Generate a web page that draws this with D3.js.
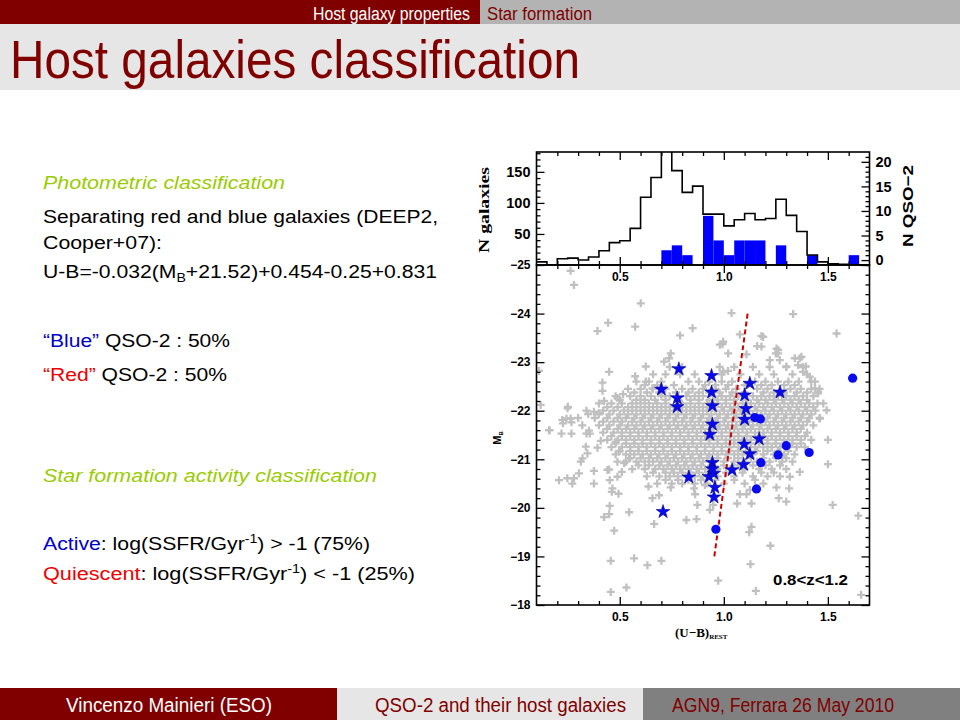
<!DOCTYPE html>
<html>
<head>
<meta charset="utf-8">
<script src="https://cdn.jsdelivr.net/npm/d3@7"></script>
<style>
  body { margin: 0; background: #fff; }
  svg { display: block; font-family: Arial, "Liberation Sans", sans-serif; }
</style>
</head>
<body>
<svg id="slide" width="960" height="720"></svg>
<script>
// ---- histogram (bins of 0.05 in U-B, from 0.1 to 1.7) ----
const binStart = 0.1, binWidth = 0.05;
const galCounts = [5,0,10,11,8,13,23,36,39,59,109,141,200,152,117,127,
                   82,82,63,73,83,73,75,106,80,54,16,5,2,1,0,0];
const qsoCounts = [0,0,0,0,0,0,0,0,0,0,0,0,2,3,1,0,
                   9,4,1,4,4,4,0,3,0,0,1,0,0,0,1,0];

// ---- QSO-2 hosts: [U-B, M_B] ----
const qsoActive = [
  [0.784,-22.86],[0.70,-22.44],[0.776,-22.26],[0.776,-22.08],[0.941,-22.72],
  [0.941,-22.38],[0.945,-22.10],[0.945,-21.72],[0.933,-21.51],[1.125,-22.56],
  [1.10,-22.32],[1.106,-22.04],[1.10,-21.82],[1.17,-21.42],[1.098,-21.31],
  [1.125,-21.11],[1.27,-22.38],[1.095,-20.89],[0.945,-20.93],[0.929,-20.64],
  [0.952,-20.71],[0.945,-20.80],[0.832,-20.63],[1.04,-20.78],[0.957,-20.42],
  [0.953,-20.22],[0.708,-19.92]
];
const qsoQuiescent = [
  [1.619,-22.67],[1.149,-21.86],[1.176,-21.83],[1.30,-21.28],[1.261,-21.09],
  [1.41,-21.14],[1.178,-20.93],[1.157,-20.39],[0.962,-19.56]
];

// ---- field galaxies, sparse outskirts: [U-B, M_B] ----
const fieldOuter = [
  [0.264,-24.88],[0.28,-24.59],[0.601,-24.21],[0.444,-23.81],[0.393,-23.64],[0.574,-23.73],
  [0.85,-23.70],[0.79,-23.55],[0.745,-23.18],[0.737,-23.08],[0.713,-23.01],[0.625,-22.91],
  [0.112,-22.82],[0.449,-22.80],[0.574,-22.71],[0.417,-22.58],[0.417,-22.41],[0.425,-22.20],
  [0.249,-22.05],[0.12,-22.12],[0.224,-21.81],[0.264,-21.84],[0.16,-21.60],[0.352,-21.59],
  [0.376,-21.98],[0.40,-21.95],[0.489,-22.26],[0.516,-22.34],[0.625,-22.60],[0.657,-22.46],
  [1.037,-24.01],[1.333,-23.99],[1.542,-23.59],[1.077,-23.57],[1.181,-23.54],[0.994,-23.37],
  [1.16,-23.33],[1.261,-23.25],[1.25,-23.18],[1.021,-23.18],[1.109,-23.16],[1.221,-23.04],
  [1.269,-23.04],[1.365,-23.08],[1.357,-22.94],[1.394,-22.91],[1.30,-22.91],[1.438,-22.60],
  [1.453,-22.39],[1.381,-22.80],[1.413,-22.70],[0.997,-22.80],[1.02,-22.82],
  [0.208,-20.57],[0.248,-20.61],[0.272,-20.50],[0.28,-20.61],[0.304,-20.71],[0.376,-20.76],
  [0.376,-20.50],[0.449,-20.79],[0.452,-20.57],[0.465,-20.40],[0.462,-20.33],[0.494,-20.29],
  [0.452,-20.04],[0.449,-19.87],[0.425,-19.81],[0.545,-19.91],[0.473,-19.53],[0.457,-18.91],
  [0.569,-18.96],[0.633,-18.82],[0.70,-18.91],[0.457,-18.27],[0.532,-18.36],[0.665,-19.67],
  [0.689,-20.26],[0.657,-20.20],[0.745,-20.42],[0.638,-20.44],[0.857,-20.40],[0.862,-20.28],
  [0.873,-20.06],[0.82,-19.75],[0.869,-19.77],[0.337,-21.26],[0.393,-21.24],[0.321,-21.02],
  [0.313,-20.95],[0.345,-21.12],[0.409,-21.38],[0.481,-21.36],[0.441,-20.78],[0.489,-20.95],
  [0.489,-20.64],[0.51,-20.74],[0.521,-20.92],[0.545,-21.02],[0.497,-21.16],
  [1.50,-21.40],[1.50,-20.90],[1.523,-20.06],[1.646,-19.84],[1.365,-20.74],[1.317,-20.64],
  [1.253,-20.42],[1.314,-20.40],[1.264,-20.20],[1.30,-20.13],[1.133,-20.09],[1.064,-20.09],
  [1.077,-20.28],[1.109,-20.28],[1.125,-20.37],[1.133,-19.61],[1.122,-19.50],[1.224,-19.22],
  [1.128,-18.84],[0.973,-18.50],[1.154,-18.29],[1.66,-18.21],[0.933,-19.96],[0.949,-20.06],
  [0.909,-20.47],[0.251,-22.08],[0.244,-21.84],[0.227,-21.74],[0.268,-21.76],[0.163,-21.60],
  [0.22,-21.53],[0.268,-21.53],[0.348,-21.93],[0.34,-21.53],[0.356,-21.53],[1.438,-22.46],
  [1.453,-22.36],[1.478,-22.15],[1.494,-22.01],[1.462,-21.84],[1.341,-23.08],[1.373,-23.11],
  [0.981,-23.36],[0.997,-23.42],[1.189,-23.52],[1.181,-23.32],[1.253,-23.28],[1.261,-23.18]
];

// ---- field galaxies, crowded core, read row by row: [M_B, [U-B ...]] ----
const fieldCore = [
  [-22.9, [0.74,0.80,0.98,1.05,1.14,1.22,1.30,1.38]],
  [-22.75,[0.66,0.72,0.79,0.86,0.99,1.08,1.17,1.24,1.33,1.40]],
  [-22.6, [0.58,0.64,0.70,0.83,0.88,0.93,0.99,1.04,1.15,1.20,1.26,1.31,1.36,1.42]],
  [-22.525,[0.62,0.68,0.76,0.91,0.96,1.02,1.10,1.18,1.23,1.29,1.34]],
  [-22.45,[0.54,0.60,0.66,0.72,0.80,0.85,0.90,0.96,1.01,1.06,1.16,1.21,1.32,1.37,1.42,1.46]],
  [-22.375,[0.57,0.63,0.69,0.77,0.83,0.88,0.93,0.98,1.04,1.10,1.19,1.24,1.29,1.35,1.40]],
  [-22.3, [0.48,0.55,0.60,0.65,0.70,0.74,0.82,0.86,0.90,0.95,0.99,1.03,1.07,1.14,1.18,1.22,1.26,1.30,1.34,1.38,1.43]],
  [-22.225,[0.50,0.58,0.62,0.67,0.72,0.78,0.84,0.88,0.93,0.97,1.01,1.05,1.11,1.16,1.20,1.24,1.28,1.32,1.36,1.40]],
  [-22.15,[0.40,0.46,0.51,0.56,0.60,0.64,0.68,0.72,0.80,0.84,0.88,0.92,0.97,1.01,1.05,1.09,1.13,1.17,1.21,1.25,1.29,1.33,1.37,1.41,1.45]],
  [-22.075,[0.44,0.49,0.54,0.58,0.62,0.66,0.70,0.74,0.78,0.82,0.86,0.90,0.94,0.99,1.03,1.07,1.11,1.15,1.19,1.23,1.27,1.31,1.35,1.39,1.43]],
  [-22.0, [0.34,0.42,0.47,0.52,0.56,0.60,0.64,0.68,0.72,0.76,0.80,0.84,0.88,0.92,0.96,1.00,1.04,1.08,1.12,1.16,1.20,1.24,1.28,1.32,1.36,1.40,1.44]],
  [-21.925,[0.40,0.45,0.50,0.54,0.58,0.62,0.66,0.70,0.74,0.78,0.82,0.86,0.90,0.94,0.98,1.02,1.06,1.10,1.14,1.18,1.22,1.26,1.30,1.34,1.38,1.42]],
  [-21.85,[0.30,0.38,0.44,0.49,0.53,0.57,0.61,0.65,0.69,0.73,0.77,0.81,0.85,0.89,0.93,0.97,1.01,1.05,1.09,1.13,1.17,1.21,1.25,1.29,1.33,1.37,1.41,1.46]],
  [-21.775,[0.42,0.47,0.51,0.56,0.60,0.64,0.68,0.72,0.76,0.80,0.84,0.88,0.92,0.96,1.00,1.04,1.08,1.12,1.16,1.20,1.24,1.28,1.32,1.36,1.40]],
  [-21.7, [0.32,0.40,0.45,0.50,0.54,0.58,0.62,0.66,0.70,0.74,0.78,0.82,0.86,0.90,0.94,0.98,1.02,1.06,1.10,1.14,1.18,1.22,1.26,1.30,1.34,1.38,1.43]],
  [-21.625,[0.44,0.49,0.53,0.57,0.61,0.65,0.69,0.73,0.77,0.81,0.85,0.89,0.93,0.97,1.01,1.05,1.09,1.13,1.17,1.21,1.25,1.29,1.33,1.37]],
  [-21.55,[0.42,0.47,0.51,0.55,0.59,0.63,0.67,0.71,0.75,0.79,0.83,0.87,0.91,0.95,0.99,1.03,1.07,1.11,1.15,1.19,1.23,1.27,1.31,1.35,1.40]],
  [-21.475,[0.46,0.51,0.55,0.59,0.63,0.67,0.71,0.75,0.79,0.83,0.87,0.91,0.95,0.99,1.03,1.07,1.11,1.15,1.19,1.23,1.27,1.31,1.35,1.39]],
  [-21.4, [0.44,0.49,0.53,0.57,0.61,0.65,0.69,0.73,0.77,0.81,0.85,0.89,0.93,0.97,1.01,1.05,1.09,1.13,1.17,1.21,1.25,1.29,1.33,1.37,1.42]],
  [-21.325,[0.48,0.53,0.57,0.61,0.65,0.69,0.73,0.77,0.81,0.85,0.89,0.93,0.97,1.01,1.05,1.09,1.13,1.17,1.21,1.25,1.29,1.33,1.37]],
  [-21.25,[0.46,0.51,0.55,0.59,0.63,0.67,0.71,0.75,0.79,0.83,0.87,0.91,0.95,0.99,1.03,1.07,1.11,1.15,1.19,1.23,1.27,1.31,1.35,1.39]],
  [-21.175,[0.50,0.55,0.59,0.63,0.67,0.71,0.75,0.79,0.83,0.87,0.91,0.95,0.99,1.03,1.07,1.11,1.16,1.21,1.26,1.31]],
  [-21.1, [0.48,0.53,0.57,0.61,0.65,0.69,0.73,0.77,0.81,0.85,0.89,0.93,0.97,1.01,1.05,1.09,1.14,1.19,1.24,1.29,1.34]],
  [-21.025,[0.55,0.60,0.64,0.68,0.72,0.76,0.80,0.84,0.88,0.92,0.97,1.02,1.07,1.13,1.19,1.25,1.30]],
  [-20.95,[0.53,0.58,0.62,0.66,0.70,0.74,0.78,0.82,0.86,0.90,0.95,1.00,1.05,1.10,1.16,1.22,1.28,1.33]],
  [-20.875,[0.59,0.64,0.69,0.73,0.77,0.81,0.85,0.89,0.94,1.00,1.07,1.14,1.20,1.27]],
  [-20.8, [0.56,0.62,0.67,0.71,0.75,0.79,0.83,0.87,0.91,0.97,1.03,1.10,1.17,1.23,1.30]],
  [-20.725,[0.66,0.72,0.76,0.80,0.84,0.88,0.93,1.01,1.09,1.18,1.24]],
  [-20.65,[0.63,0.69,0.74,0.78,0.82,0.86,0.90,0.97,1.05,1.14,1.21,1.27]],
  [-20.575,[0.72,0.78,0.83,0.89,0.96,1.05,1.15]],
  [-20.5, [0.68,0.75,0.80,0.86,0.92,1.00,1.10,1.19]]
];

// ---- colour separation (Cooper+07): U-B = slope*(M_B + pivot) + offset ----
const sepSlope = -0.032, sepPivot = 21.52, sepOffset = 0.454 - 0.25 + 0.831;
const sepRange = [-24, -19];

// ---- tick labels ----
const xMajor = [0.5, 1.0, 1.5];
const magMajor = [-25, -24, -23, -22, -21, -20, -19, -18];
const galMajor = [50, 100, 150];
const qsoMajor = [0, 5, 10, 15, 20];

const svg = d3.select("#slide");
const RED = "#800000";

// ================= slide frame =================
svg.append("rect").attr("x", 0).attr("y", 0).attr("width", 480).attr("height", 24).attr("fill", RED);
svg.append("rect").attr("x", 480).attr("y", 0).attr("width", 480).attr("height", 24).attr("fill", "#b3b3b3");
svg.append("rect").attr("x", 0).attr("y", 24).attr("width", 960).attr("height", 66).attr("fill", "#e6e6e6");
svg.append("text").attr("x", 313).attr("y", 20).attr("font-size", 18).attr("fill", "#fff")
  .attr("textLength", 157).attr("lengthAdjust", "spacingAndGlyphs").text("Host galaxy properties");
svg.append("text").attr("x", 487).attr("y", 20).attr("font-size", 18).attr("fill", RED)
  .attr("textLength", 105).attr("lengthAdjust", "spacingAndGlyphs").text("Star formation");
svg.append("text").attr("x", 10).attr("y", 78).attr("font-size", 53).attr("fill", RED)
  .attr("textLength", 570).attr("lengthAdjust", "spacingAndGlyphs").text("Host galaxies classification");

svg.append("rect").attr("x", 0).attr("y", 688).attr("width", 337).attr("height", 32).attr("fill", RED);
svg.append("rect").attr("x", 337).attr("y", 688).attr("width", 306).attr("height", 32).attr("fill", "#e6e6e6");
svg.append("rect").attr("x", 643).attr("y", 688).attr("width", 317).attr("height", 32).attr("fill", "#808080");
svg.append("text").attr("x", 66).attr("y", 712).attr("font-size", 20).attr("fill", "#fff")
  .attr("textLength", 206).attr("lengthAdjust", "spacingAndGlyphs").text("Vincenzo Mainieri (ESO)");
svg.append("text").attr("x", 375).attr("y", 712).attr("font-size", 20).attr("fill", RED)
  .attr("textLength", 251).attr("lengthAdjust", "spacingAndGlyphs").text("QSO-2 and their host galaxies");
svg.append("text").attr("x", 672).attr("y", 712).attr("font-size", 20).attr("fill", RED)
  .attr("textLength", 222).attr("lengthAdjust", "spacingAndGlyphs").text("AGN9, Ferrara 26 May 2010");

// ================= left column text =================
const GREEN = "#99cc00", BLUE = "#0000cc", LRED = "#ee0000";
function line(y, len, parts, italic) {
  const t = svg.append("text").attr("x", 43).attr("y", y).attr("font-size", 18)
    .attr("textLength", len).attr("lengthAdjust", "spacingAndGlyphs");
  if (italic) t.attr("font-style", "italic");
  parts.forEach(p => {
    const s = t.append("tspan").attr("fill", p.c || "#000").text(p.t);
    if (p.dy) s.attr("dy", p.dy);
    if (p.small) s.attr("font-size", 12);
  });
  return t;
}
line(189, 242, [{t: "Photometric classification", c: GREEN}], true);
line(223, 395, [{t: "Separating red and blue galaxies (DEEP2,"}]);
line(249, 119, [{t: "Cooper+07):"}]);
line(278, 394, [{t: "U-B=-0.032(M"}, {t: "B", dy: 4, small: true}, {t: "+21.52)+0.454-0.25+0.831", dy: -4}]);
line(347, 187, [{t: "\u201cBlue\u201d", c: BLUE}, {t: " QSO-2 : 50%"}]);
line(381, 184, [{t: "\u201cRed\u201d", c: LRED}, {t: " QSO-2 : 50%"}]);
line(482, 334, [{t: "Star formation activity classification", c: GREEN}], true);
line(550, 327, [{t: "Active", c: BLUE}, {t: ": log(SSFR/Gyr"}, {t: "-1", dy: -7, small: true}, {t: ") > -1 (75%)", dy: 7}]);
line(580, 372, [{t: "Quiescent", c: LRED}, {t: ": log(SSFR/Gyr"}, {t: "-1", dy: -7, small: true}, {t: ") <  -1  (25%)", dy: 7}]);

// ================= chart =================
const L = 536.5, R = 869.5, T = 152, M = 265, B = 605;
const x = d3.scaleLinear().domain([0.1, 1.7]).range([L, R]);
const yMag = d3.scaleLinear().domain([-25, -18]).range([M, B]);
const yGal = d3.scaleLinear().domain([0, 182]).range([M, T]);
const yQso = d3.scaleLinear().domain([-1, 22]).range([M, T]);

svg.append("clipPath").attr("id", "topClip")
  .append("rect").attr("x", L).attr("y", T).attr("width", R - L).attr("height", M - T);
svg.append("clipPath").attr("id", "botClip")
  .append("rect").attr("x", L).attr("y", M).attr("width", R - L).attr("height", B - M);

// --- histograms ---
const hist = galCounts.map((v, i) => ({x0: binStart + i * binWidth, gal: v, qso: qsoCounts[i]}));
const histG = svg.append("g").attr("clip-path", "url(#topClip)");
histG.selectAll("rect.qso").data(hist.filter(d => d.qso > 0)).join("rect")
  .attr("class", "qso")
  .attr("x", d => x(d.x0)).attr("width", d => x(d.x0 + binWidth) - x(d.x0))
  .attr("y", d => yQso(d.qso)).attr("height", d => M - yQso(d.qso))
  .attr("fill", "#0000ff");
const stepPts = hist.map(d => [d.x0, d.gal]).concat([[binStart + hist.length * binWidth, 0]]);
histG.append("path").datum(stepPts)
  .attr("d", d3.line().x(d => x(d[0])).y(d => yGal(d[1])).curve(d3.curveStepAfter))
  .attr("fill", "none").attr("stroke", "#000").attr("stroke-width", 1.6);

// --- scatter ---
const field = fieldOuter.concat(...fieldCore.map(r => r[1].map(v => [v, r[0]])));
const scatG = svg.append("g").attr("clip-path", "url(#botClip)");
scatG.selectAll("path.gal").data(field).join("path")
  .attr("class", "gal")
  .attr("transform", d => `translate(${x(d[0])},${yMag(d[1])})`)
  .attr("d", "M-4,0H4M0,-4V4")
  .attr("stroke", "#c0c0c0").attr("stroke-width", 2.3).attr("fill", "none");

const sep = sepRange.map(m => [sepSlope * (m + sepPivot) + sepOffset, m]);
scatG.append("path").datum(sep)
  .attr("d", d3.line().x(d => x(d[0])).y(d => yMag(d[1])))
  .attr("stroke", "#cc0000").attr("stroke-width", 2).attr("stroke-dasharray", "5,3").attr("fill", "none");

const star = d3.symbol(d3.symbolStar, 58);
scatG.selectAll("path.act").data(qsoActive).join("path")
  .attr("class", "act")
  .attr("transform", d => `translate(${x(d[0])},${yMag(d[1])})`)
  .attr("d", star).attr("fill", "#0a0af0").attr("stroke", "#00008a").attr("stroke-width", 0.6);
scatG.selectAll("circle.qui").data(qsoQuiescent).join("circle")
  .attr("class", "qui")
  .attr("cx", d => x(d[0])).attr("cy", d => yMag(d[1])).attr("r", 4.6)
  .attr("fill", "#0a0af0");

// --- axes ---
function axis(fn, scale, tr, values, size, fmt, pad, fs) {
  const a = fn(scale).tickValues(values).tickSize(-size).tickPadding(pad)
    .tickFormat(fmt || "");
  const g = svg.append("g").attr("transform", tr).call(a);
  g.select(".domain").remove();
  g.selectAll("line").attr("stroke", "#000").attr("stroke-width", 1.3);
  g.selectAll("text").attr("font-size", fs).attr("font-weight", "bold")
    .attr("font-family", "Arial, 'Liberation Sans', sans-serif").attr("fill", "#000");
  return g;
}
const xMinor = d3.range(0.2, 1.7, 0.1).filter(v => Math.abs(v * 2 - Math.round(v * 2)) > 1e-6);
const fmtX = d3.format(".1f"), fmtI = d3.format("d");
// bottom panel
axis(d3.axisBottom, x, `translate(0,${B})`, xMajor, 8, fmtX, 7, 12);
axis(d3.axisBottom, x, `translate(0,${B})`, xMinor, 4, null, 0, 1);
axis(d3.axisTop, x, `translate(0,${M})`, xMajor, 8, null, 0, 1);
axis(d3.axisTop, x, `translate(0,${M})`, xMinor, 4, null, 0, 1);
const magMinor = d3.range(-24.8, -18, 0.2).filter(v => Math.abs(v - Math.round(v)) > 1e-6);
axis(d3.axisLeft, yMag, `translate(${L},0)`, magMajor, 8, fmtI, 6, 12);
axis(d3.axisLeft, yMag, `translate(${L},0)`, magMinor, 4, null, 0, 1);
axis(d3.axisRight, yMag, `translate(${R},0)`, magMajor, 8, null, 0, 1);
axis(d3.axisRight, yMag, `translate(${R},0)`, magMinor, 4, null, 0, 1);
// top panel
axis(d3.axisBottom, x, `translate(0,${M})`, xMajor, 8, fmtX, 7, 12);
axis(d3.axisTop, x, `translate(0,${T})`, xMajor, 8, null, 0, 1);
axis(d3.axisTop, x, `translate(0,${T})`, xMinor, 4, null, 0, 1);
axis(d3.axisBottom, x, `translate(0,${M})`, xMinor, 4, null, 0, 1);
axis(d3.axisLeft, yGal, `translate(${L},0)`, galMajor, 8, fmtI, 6, 14.5);
axis(d3.axisLeft, yGal, `translate(${L},0)`, d3.range(10, 181, 10).filter(v => v % 50), 4, null, 0, 1);
axis(d3.axisRight, yQso, `translate(${R},0)`, qsoMajor, 8, fmtI, 6, 14.5);
axis(d3.axisRight, yQso, `translate(${R},0)`, d3.range(-1, 22, 1).filter(v => v % 5), 4, null, 0, 1);

// frames
[[T, M], [M, B]].forEach(([a, b]) => svg.append("rect")
  .attr("x", L).attr("y", a).attr("width", R - L).attr("height", b - a)
  .attr("fill", "none").attr("stroke", "#000").attr("stroke-width", 1.6));

// titles
svg.append("text").attr("transform", "translate(489,210) rotate(-90)")
  .attr("text-anchor", "middle").attr("font-size", 15.5).attr("font-weight", "bold")
  .attr("font-family", "'Liberation Serif', 'DejaVu Serif', serif")
  .attr("textLength", 86).attr("lengthAdjust", "spacingAndGlyphs").text("N galaxies");
svg.append("text").attr("transform", "translate(913,206) rotate(-90)")
  .attr("text-anchor", "middle").attr("font-size", 14.5).attr("font-weight", "bold")
  .attr("textLength", 82).attr("lengthAdjust", "spacingAndGlyphs").text("N QSO\u22122");
const mb = svg.append("text").attr("transform", "translate(501,438) rotate(-90)")
  .attr("text-anchor", "middle").attr("font-size", 11).attr("font-weight", "bold");
mb.append("tspan").text("M");
mb.append("tspan").attr("font-size", 6).attr("dy", 2).text("B");
const ub = svg.append("text").attr("x", 675).attr("y", 637).attr("font-size", 13)
  .attr("font-weight", "bold").attr("font-family", "'Liberation Serif', 'DejaVu Serif', serif");
ub.append("tspan").text("(U\u2212B)");
ub.append("tspan").attr("font-size", 7).attr("dy", 2).text("REST");
svg.append("text").attr("x", 773).attr("y", 585).attr("font-size", 14).attr("font-weight", "bold")
  .attr("textLength", 75).attr("lengthAdjust", "spacingAndGlyphs").text("0.8<z<1.2");
</script>
</body>
</html>
